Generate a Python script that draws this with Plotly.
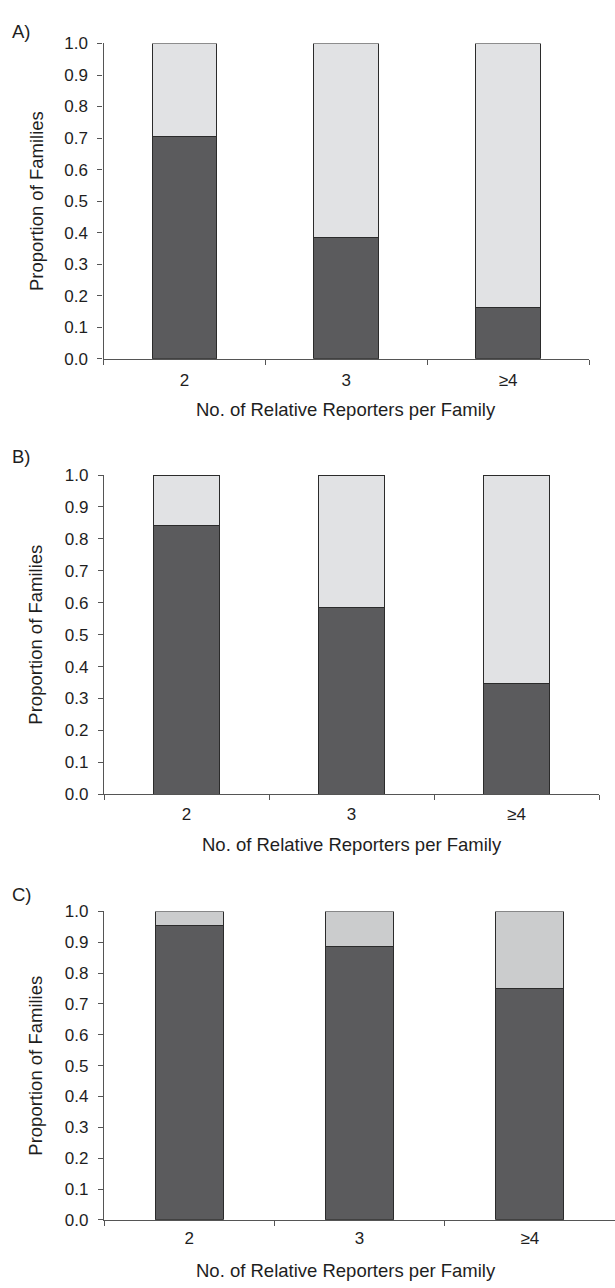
import plotly.graph_objects as go
from plotly.subplots import make_subplots

categories = ["2", "3", "\u22654"]
a_dark = [0.705, 0.384, 0.162]
a_light = [0.295, 0.616, 0.838]
b_dark = [0.842, 0.584, 0.348]
b_light = [0.158, 0.416, 0.652]
c_dark = [0.956, 0.888, 0.750]
c_light = [0.044, 0.112, 0.250]
panel_labels = ["A)", "B)", "C)"]
y_ticks = [0.0, 0.1, 0.2, 0.3, 0.4, 0.5, 0.6, 0.7, 0.8, 0.9, 1.0]
x_title = "No. of Relative Reporters per Family"
y_title = "Proportion of Families"

W, H = 615, 1288
DARK = "#5b5b5d"
LIGHT_AB = "#e1e2e4"
LIGHT_C = "#cbcccd"
EDGE = "#2b2b2b"
TXT = "#1e1e1e"
FONT = "Liberation Sans, Arial, Helvetica, sans-serif"

# pixel geometry of each panel: (x0, x1, ytop, ybottom)
panels = [(103.5, 589, 35, 355), (104, 599, 473, 797), (104, 615, 916, 1229)]
data = [(a_dark, a_light, LIGHT_AB), (b_dark, b_light, LIGHT_AB), (c_dark, c_light, LIGHT_C)]
x_standoff = [6, 4, 3]

fig = make_subplots(rows=3, cols=1)

annotations = []
for i, ((x0, x1, yt, yb), (dark, light, lc)) in enumerate(zip(panels, data)):
    r = i + 1
    fig.add_trace(go.Bar(x=categories, y=dark, marker=dict(color=DARK, line=dict(color=EDGE, width=1)),
                         cliponaxis=False, showlegend=False), row=r, col=1)
    fig.add_trace(go.Bar(x=categories, y=light, marker=dict(color=lc, line=dict(color=EDGE, width=1)),
                         cliponaxis=False, showlegend=False), row=r, col=1)
    xa = "xaxis" if r == 1 else f"xaxis{r}"
    ya = "yaxis" if r == 1 else f"yaxis{r}"
    fig.layout[xa].update(domain=[x0 / W, x1 / W], range=[-0.5, 2.5], showline=True, linecolor="#555555",
                          linewidth=1.3, ticks="outside", ticklen=5, tickwidth=1.2, tickcolor="#555555",
                          tickson="boundaries", showgrid=False, zeroline=False,
                          ticklabelstandoff=x_standoff[i],
                          tickfont=dict(family=FONT, size=17, color=TXT))
    fig.layout[ya].update(domain=[1 - yb / H, 1 - yt / H], range=[0, 1.0], showline=True, linecolor="#555555",
                          linewidth=1.3, ticks="outside", ticklen=5, tickwidth=1.2, tickcolor="#555555",
                          tickvals=y_ticks, tickformat=".1f", showgrid=False, zeroline=False,
                          ticklabelstandoff=6,
                          tickfont=dict(family=FONT, size=17, color=TXT))
    annotations.append(dict(text=x_title, x=((x0 + x1) / 2) / W if r < 3 else 346 / W,
                            y=1 - (yb + 51) / H, xref="paper", yref="paper",
                            showarrow=False, xanchor="center", yanchor="middle",
                            font=dict(family=FONT, size=18.5, color=TXT)))
    annotations.append(dict(text=y_title, x=36 / W, y=1 - ((yt + yb) / 2) / H, xref="paper", yref="paper",
                            showarrow=False, textangle=-90, xanchor="center", yanchor="middle",
                            font=dict(family=FONT, size=18.5, color=TXT)))
    label_y = [23, 454, 899][i]
    annotations.append(dict(text=panel_labels[i], x=10 / W, y=1 - label_y / H, xref="paper", yref="paper",
                            showarrow=False, xanchor="left", yanchor="middle",
                            font=dict(family=FONT, size=18.5, color=TXT)))

fig.update_layout(width=W, height=H, margin=dict(l=0, r=0, t=0, b=0), barmode="stack", bargap=0.6,
                  plot_bgcolor="white", paper_bgcolor="white", annotations=annotations,
                  font=dict(family=FONT, color=TXT))

fig.write_html("out.html", config={"displayModeBar": False},
               post_script="document.body.style.margin='0';document.body.style.overflow='hidden';")
